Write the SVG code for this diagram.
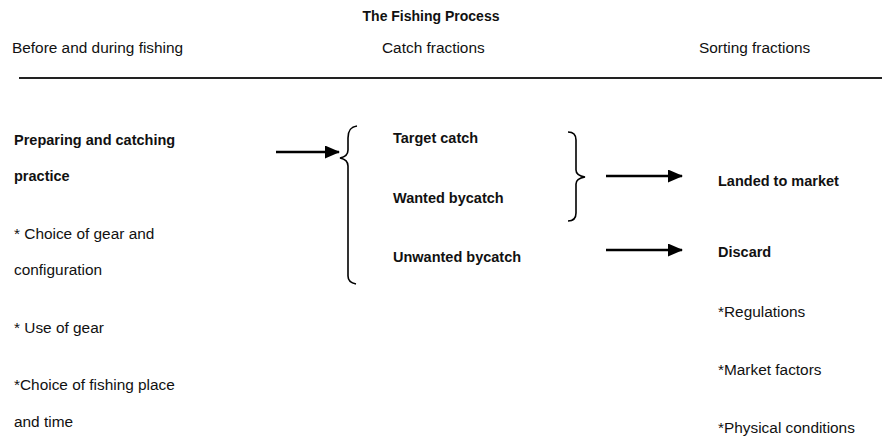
<svg xmlns="http://www.w3.org/2000/svg" width="882" height="440" viewBox="0 0 882 440">
<defs>
<style>
text{font-family:"Liberation Sans",Arial,sans-serif;font-size:15.4px;fill:#111}
.b{font-weight:bold;font-size:14.5px}
.t{font-weight:bold;font-size:14px}
.ln{stroke:#000;stroke-width:2.5;fill:none}
.br{stroke:#000;stroke-width:1.6;fill:none}
</style>
<marker id="ah" markerWidth="15" markerHeight="13" refX="14" refY="6.5" orient="auto" markerUnits="userSpaceOnUse">
<path d="M0,0 L15,6.5 L0,13 Z" fill="#000"/>
</marker>
</defs>
<rect width="882" height="440" fill="#fff"/>
<g id="header">
<text class="t" x="431" y="21" text-anchor="middle">The Fishing Process</text>
<text x="12" y="53">Before and during fishing</text>
<text x="382" y="53">Catch fractions</text>
<text x="699" y="53">Sorting fractions</text>
<line x1="19" y1="78" x2="882" y2="78" stroke="#222" stroke-width="2"/>
</g>
<g id="before">
<text class="b" x="14" y="145">Preparing and catching</text>
<text class="b" x="14" y="181">practice</text>
<text x="14" y="239">* Choice of gear and</text>
<text x="14" y="275">configuration</text>
<text x="14" y="333">* Use of gear</text>
<text x="14" y="390">*Choice of fishing place</text>
<text x="14" y="427">and time</text>
</g>
<g id="catch">
<text class="b" x="393" y="143">Target catch</text>
<text class="b" x="393" y="203">Wanted bycatch</text>
<text class="b" x="393" y="262">Unwanted bycatch</text>
</g>
<g id="sorting">
<text class="b" x="718" y="186">Landed to market</text>
<text class="b" x="718" y="257">Discard</text>
<text x="718" y="317">*Regulations</text>
<text x="718" y="375">*Market factors</text>
<text x="718" y="433">*Physical conditions</text>
</g>
<g id="braces">
<path class="br" d="M357,126 C350,127 348,131 348,138 L348,150 C348,155 345,157 340,158 C345,159 348,161 348,166 L348,276 C348,281 351,283 356,284"/>
<path class="br" d="M568,132 C573,132 576,135 576,140 L576,170 C576,174 579,176 585,177 C579,178 576,180 576,184 L576,213 C576,218 573,221 568,221"/>
</g>
<g id="connectors">
<line class="ln" x1="276" y1="152" x2="339" y2="152" marker-end="url(#ah)"/>
<line class="ln" x1="606" y1="176" x2="682" y2="176" marker-end="url(#ah)"/>
<line class="ln" x1="606" y1="250" x2="682" y2="250" marker-end="url(#ah)"/>
</g>
</svg>
